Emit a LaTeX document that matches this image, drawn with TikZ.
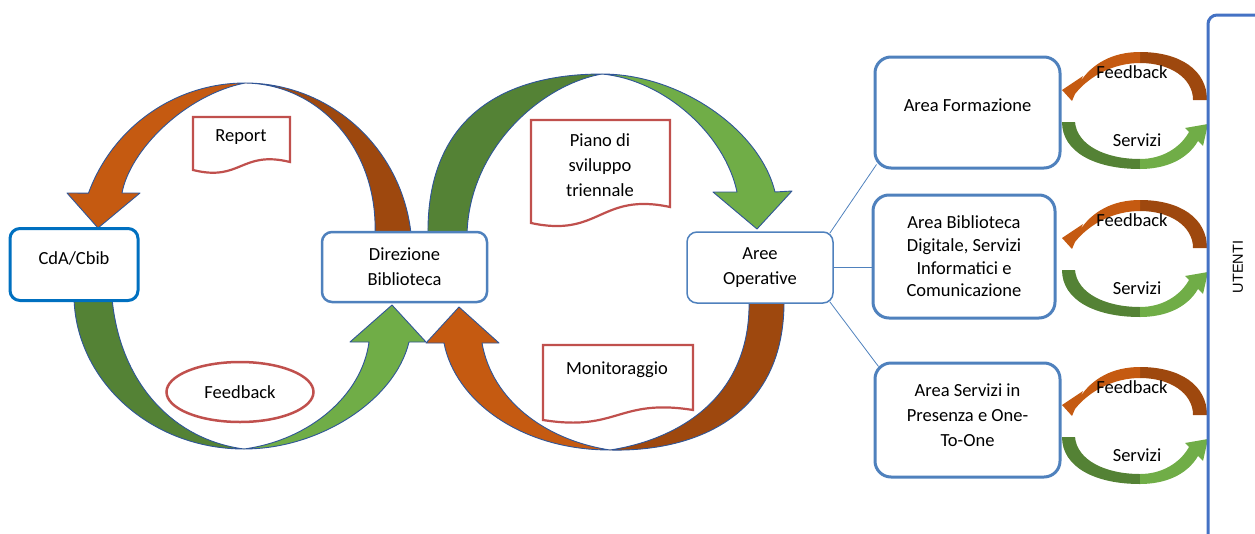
\documentclass[tikz,border=0pt]{standalone}
\usepackage{fontspec}
\setmainfont{Carlito}
\newfontfamily\arialf{Liberation Sans}
\usetikzlibrary{shapes.geometric}
\definecolor{orangeA}{HTML}{C55A11}
\definecolor{brownA}{HTML}{9E480E}
\definecolor{greenD}{HTML}{548235}
\definecolor{greenL}{HTML}{70AD47}
\definecolor{arrline}{HTML}{2F5597}
\definecolor{boxblue}{HTML}{4F81BD}
\definecolor{cdablue}{HTML}{0070C0}
\definecolor{docred}{HTML}{C0504D}
\definecolor{ublue}{HTML}{4472C4}
\begin{document}
\begin{tikzpicture}[x=1pt,y=-1pt,
  every node/.style={font=\fontsize{18.5}{25}\selectfont, inner sep=0pt, align=center},
  bigarrow/.style={draw=arrline, line width=0.9pt, line join=round},
  box/.style={draw=boxblue, fill=white, rounded corners=10pt, line width=2.5pt},
  areabox/.style={draw=boxblue, fill=white, rounded corners=16pt, line width=3pt},
  docshape/.style={draw=docred, fill=white, line width=2.2pt, line join=miter},
  conn/.style={draw=boxblue, line width=0.8pt}
]
\useasboundingbox (0,0) rectangle (1255,533);

% ---------- left cycle: Report arrow (top)
\filldraw[bigarrow, fill=brownA] (245,83) arc[start angle=270, end angle=353.9, x radius=167, y radius=169]
  -- (375,234) .. controls (378,150) and (320,84) .. (245,83) -- cycle;
\filldraw[bigarrow, fill=orangeA] (98,228) -- (140,193) -- (122,193)
  .. controls (130,150) and (185,95) .. (245,83)
  arc[start angle=270, end angle=200.4, x radius=167, y radius=169]
  -- (67,193) -- cycle;

% ---------- left cycle: Feedback arrow (bottom)
\filldraw[bigarrow, fill=greenD] (74,298) .. controls (76,380) and (150,449) .. (244,449)
  .. controls (175,440) and (120,385) .. (112,298) -- cycle;
\filldraw[bigarrow, fill=greenL] (244,449) .. controls (320,449) and (395,400) .. (409,342)
  -- (426,342) -- (392,305) -- (350,342) -- (369,342)
  .. controls (362,395) and (310,440) .. (244,449) -- cycle;

% ---------- middle cycle: Piano arrow (top)
\filldraw[bigarrow, fill=greenD] (428,236) .. controls (426,120) and (500,74) .. (602,74)
  .. controls (540,85) and (468,150) .. (467,236) -- cycle;
\filldraw[bigarrow, fill=greenL] (602,74) .. controls (680,74) and (760,130) .. (775,192)
  -- (792,191) -- (757,229) -- (713,192) -- (737,192)
  .. controls (725,135) and (665,80) .. (602,74) -- cycle;

% ---------- middle cycle: Monitoraggio arrow (bottom)
\filldraw[bigarrow, fill=brownA] (784,298) .. controls (786,420) and (690,452) .. (610,450)
  .. controls (675,440) and (752,400) .. (749,298) -- cycle;
\filldraw[bigarrow, fill=orangeA] (610,450) .. controls (520,450) and (455,400) .. (444,343)
  -- (426,343) -- (459,307) -- (499,343) -- (482,343)
  .. controls (492,400) and (545,440) .. (610,450) -- cycle;

% ---------- documents
\draw[docshape] (193,117) -- (290,117) -- (290,162) .. controls (241,150) and (241,182) .. (193,170) -- cycle;
\node (report) at (241,137) {Report};
\draw[docshape] (531,120) -- (670,120) -- (670,207) .. controls (600,192) and (600,238) .. (531,223) -- cycle;
\node (piano) at (600,165) {Piano di\\sviluppo\\triennale};
\draw[docshape] (543,345) -- (693,345) -- (693,410) .. controls (618,398) and (618,432) .. (543,420) -- cycle;
\node (monit) at (617,370) {Monitoraggio};
\node[ellipse, draw=docred, line width=2.5pt, minimum width=147pt, minimum height=60pt] (fbell) at (240,392) {Feedback};

% ---------- main boxes
\node[box, draw=cdablue, line width=3pt, minimum width=128pt, minimum height=72pt] (cda) at (74,264.5) {};
\node (cdatxt) at ([yshift=6pt]cda.center) {CdA/Cbib};
\node[box, minimum width=165pt, minimum height=70pt] (dir) at (404.5,267) {Direzione\\Biblioteca};
\node[box, line width=1.5pt, minimum width=146pt, minimum height=71pt] (aree) at (760,267.5) {Aree\\Operative};

% ---------- area boxes
\node[areabox, minimum width=185pt, minimum height=111pt] (form) at (967.5,112.5) {};
\node (formtxt) at ([yshift=7.5pt]form.center) {Area Formazione};
\node[areabox, minimum width=182pt, minimum height=123pt, font=\fontsize{18.5}{22.7}\selectfont] (bib) at (964,256.5) {Area Biblioteca\\Digitale, Servizi\\Informatici e\\Comunicazione};
\node[areabox, minimum width=185pt, minimum height=114pt] (serv) at (967.5,420) {};
\node (servtxt) at ([yshift=5pt]serv.center) {Area Servizi in\\Presenza e One-\\To-One};

% ---------- connectors
\draw[conn] ([xshift=-4pt,yshift=-2pt]aree.north east) -- ([xshift=3pt,yshift=5pt]form.south west);
\draw[conn] (aree.east) -- (bib.west |- aree.east);
\draw[conn] ([xshift=-4pt,yshift=2pt]aree.south east) -- ([xshift=5pt,yshift=-5pt]serv.north west);

% ---------- small feedback / servizi arrows
\foreach \dy/\i in {0/1,148/2,315/3}{
  \begin{scope}[shift={(0,\dy)}]
    \fill[brownA] (1140,52) .. controls (1180,52) and (1207,70) .. (1207,100) -- (1193,100)
      .. controls (1193,78) and (1170,63) .. (1140,63) -- cycle;
    \fill[orangeA] (1062,90) -- (1072,101) -- (1075,94)
      .. controls (1090,75) and (1115,63) .. (1140,63) -- (1140,52)
      .. controls (1112,52) and (1092,64) .. (1080,82) -- (1083,76) -- cycle;
    \fill[greenD] (1062,122) .. controls (1062,152) and (1095,169) .. (1140,169) -- (1140,159)
      .. controls (1105,159) and (1077,145) .. (1075,122) -- cycle;
    \fill[greenL] (1140,169) .. controls (1165,169) and (1187,160) .. (1198,141) -- (1203,146) -- (1208,124)
      -- (1185,128) -- (1189,132) .. controls (1180,148) and (1162,159) .. (1140,159) -- cycle;
    \node (fb\i) at (1132,72) {Feedback};
    \node (sv\i) at (1137,140) {Servizi};
  \end{scope}
}

% ---------- UTENTI
\node[draw=ublue, line width=3pt, rounded corners=9pt, minimum width=70pt, minimum height=560pt] (utenti) at (1243,295) {};
\node[rotate=90, font=\arialf\fontsize{14.5}{17}\selectfont] (utxt) at (1238,267) {UTENTI};
\end{tikzpicture}
\end{document}
